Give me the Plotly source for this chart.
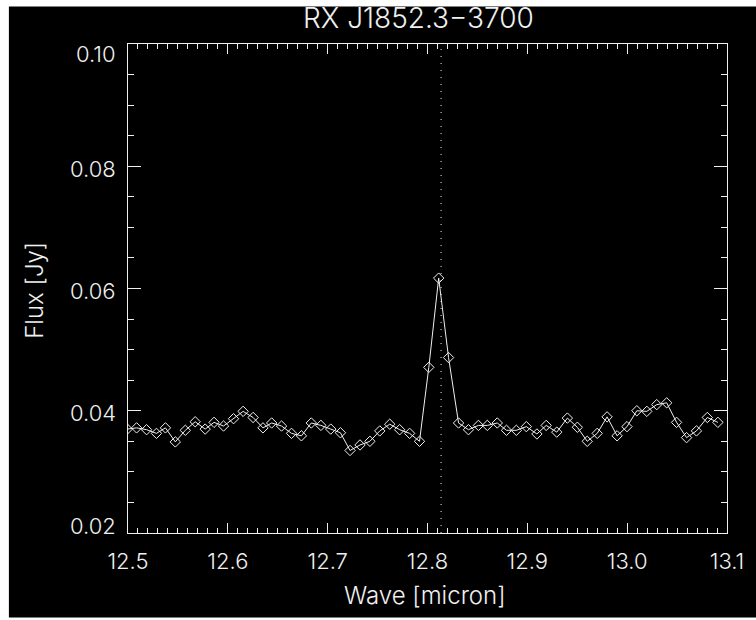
import plotly.graph_objects as go

title_text = "RX J1852.3\u22123700"
x_label = "Wave [micron]"
y_label = "Flux [Jy]"

wave = [12.4993, 12.5086, 12.5186, 12.5285, 12.5375, 12.5474, 12.5574, 12.5673, 12.5773, 12.5862,
        12.5957, 12.6057, 12.6153, 12.6253, 12.6352, 12.6439, 12.6538, 12.6638, 12.6737, 12.6836,
        12.6932, 12.7031, 12.7128, 12.7224, 12.7324, 12.7423, 12.7522, 12.7622, 12.7721, 12.7821,
        12.7920, 12.8013, 12.8112, 12.8211, 12.8311, 12.8410, 12.8510, 12.8599, 12.8699, 12.8791,
        12.8890, 12.8990, 12.9096, 12.9189, 12.9295, 12.9401, 12.9501, 12.9600, 12.9700, 12.9799,
        12.9899, 12.9998, 13.0097, 13.0197, 13.0296, 13.0396, 13.0495, 13.0595, 13.0694, 13.0803,
        13.0909]
flux = [0.0370, 0.0372, 0.0369, 0.0363, 0.0372, 0.0349, 0.0368, 0.0382, 0.0370, 0.0381,
        0.0375, 0.0387, 0.0399, 0.0389, 0.0372, 0.0380, 0.0375, 0.0363, 0.0359, 0.0380,
        0.0376, 0.0370, 0.0364, 0.0335, 0.0344, 0.0350, 0.0367, 0.0378, 0.0369, 0.0363,
        0.0350, 0.0471, 0.0617, 0.0487, 0.0380, 0.0369, 0.0376, 0.0376, 0.0380, 0.0368,
        0.0368, 0.0374, 0.0362, 0.0376, 0.0365, 0.0388, 0.0373, 0.0350, 0.0363, 0.0390,
        0.0359, 0.0374, 0.0400, 0.0399, 0.0410, 0.0413, 0.0381, 0.0356, 0.0367, 0.0389,
        0.0381]
line_center = 12.8136

x_ticks = [12.5, 12.6, 12.7, 12.8, 12.9, 13.0, 13.1]
x_tick_labels = ["12.5", "12.6", "12.7", "12.8", "12.9", "13.0", "13.1"]
y_ticks = [0.02, 0.04, 0.06, 0.08, 0.10]
y_tick_labels = ["0.02", "0.04", "0.06", "0.08", "0.10"]
# vertical nudge (px, downward) of each y tick label, as in the reference
y_label_nudge = [-7, 2.3, 2, 2.3, 9.5]

FONT = "Inter"
WEIGHT = 300
FG = "#f0f0f0"

W, H = 756, 620
L, T = 128, 43.5
R = W - 731.5
B = H - 533.3
PW, PH = W - L - R, H - T - B


def px_x(p):
    return (p - L) / PW


def px_y(p):
    return (H - B - p) / PH


fig = go.Figure()
fig.add_trace(go.Scatter(
    x=wave, y=flux, mode="lines+markers",
    line=dict(color=FG, width=1),
    marker=dict(symbol="diamond-open", size=8, color=FG, line=dict(color=FG, width=1)),
    showlegend=False, cliponaxis=True,
))

# black canvas with thin white border (as in the reference image)
fig.add_shape(type="rect", xref="paper", yref="paper",
              x0=px_x(8), x1=px_x(770), y0=px_y(618), y1=px_y(6),
              fillcolor="black", line=dict(width=0), layer="below")
fig.add_shape(type="line", xref="x", yref="paper", x0=line_center, x1=line_center,
              y0=0, y1=1, line=dict(color=FG, width=1, dash="1px,6px"))

tfont = dict(family=FONT, size=22, color=FG, weight=WEIGHT)
axis_common = dict(showline=True, linecolor=FG, linewidth=1, mirror="allticks",
                   ticks="inside", tickcolor=FG, tickwidth=1, showgrid=False, zeroline=False,
                   tickfont=tfont)

fig.update_xaxes(range=[12.5, 13.1], tickmode="array", tickvals=x_ticks, ticktext=x_tick_labels,
                 ticklen=10, ticklabelstandoff=9, ticklabeloverflow="allow",
                 minor=dict(dtick=0.01, tick0=12.5, ticklen=5, tickcolor=FG, ticks="inside", showgrid=False),
                 **axis_common)
fig.update_yaxes(range=[0.02, 0.10], tickmode="array", tickvals=y_ticks, ticktext=y_tick_labels,
                 ticklen=13, showticklabels=False,
                 minor=dict(dtick=0.005, tick0=0.02, ticklen=6, tickcolor=FG, ticks="inside", showgrid=False),
                 **axis_common)

for v, txt, nudge in zip(y_ticks, y_tick_labels, y_label_nudge):
    fig.add_annotation(text=txt, xref="paper", yref="y", x=px_x(117.5), y=v, yshift=-nudge,
                       showarrow=False, xanchor="right", yanchor="middle", font=tfont)

fig.add_annotation(text=title_text, xref="paper", yref="paper", x=px_x(421), y=px_y(17.5),
                   showarrow=False, xanchor="center", yanchor="middle",
                   font=dict(family=FONT, size=28, color=FG, weight=WEIGHT))
fig.add_annotation(text=x_label, xref="paper", yref="paper", x=px_x(427.5), y=px_y(595.5),
                   showarrow=False, xanchor="center", yanchor="middle",
                   font=dict(family=FONT, size=24, color=FG, weight=WEIGHT))
fig.add_annotation(text=y_label, xref="paper", yref="paper", x=px_x(33), y=px_y(290),
                   showarrow=False, xanchor="center", yanchor="middle", textangle=-90,
                   font=dict(family=FONT, size=24, color=FG, weight=WEIGHT))

fig.update_layout(width=W, height=H, margin=dict(l=L, r=R, t=T, b=B, pad=0),
                  paper_bgcolor="white", plot_bgcolor="black", showlegend=False)

fig.write_html("out.html", config={"displayModeBar": False},
               post_script="document.body.style.margin = '0';")
